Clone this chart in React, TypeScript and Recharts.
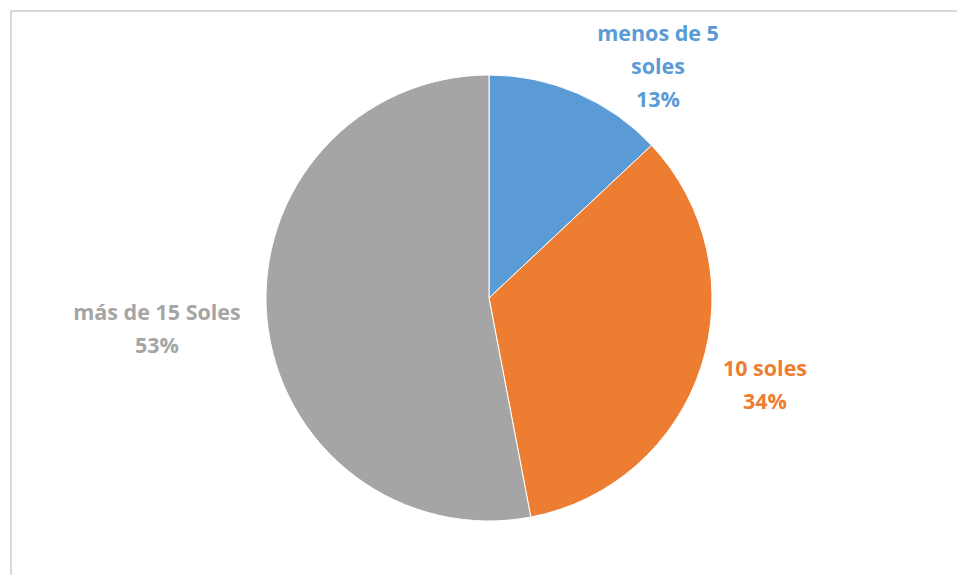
import React from 'react';
import { PieChart, Pie, Cell } from 'recharts';

const CATEGORIES = ['menos de 5 soles', '10 soles', 'más de 15 Soles'];
const VALUES = [13, 34, 53];
const LABEL_LINES = [['menos de 5', 'soles', '13%'], ['10 soles', '34%'], ['más de 15 Soles', '53%']];
const COLORS = ['#5B9BD5', '#ED7D31', '#A5A5A5'];

// label anchors relative to pie centre (first line centre)
const LABEL_OFFSETS = [
  { dx: 169, dy: -266 },
  { dx: 276, dy: 69 },
  { dx: -332, dy: 13 },
];

const data = CATEGORIES.map((name, i) => ({ name, value: VALUES[i] }));

const renderLabel = (props: any) => {
  const { cx, cy, index } = props;
  const off = LABEL_OFFSETS[index];
  return (
    <text
      x={cx + off.dx}
      y={cy + off.dy}
      textAnchor="middle"
      fill={COLORS[index]}
      fontFamily="'Open Sans', sans-serif"
      fontWeight={700}
      fontSize={21.5}
    >
      {LABEL_LINES[index].map((line, j) => (
        <tspan key={j} x={cx + off.dx} y={cy + off.dy + j * 33} dominantBaseline="central">
          {line}
        </tspan>
      ))}
    </text>
  );
};

export default function App() {
  return (
    <div
      style={{
        position: 'absolute',
        left: 10,
        top: 10,
        width: 947,
        height: 565,
        borderTop: '2px solid #D9D9D9',
        borderLeft: '2px solid #D9D9D9',
        boxSizing: 'border-box',
        overflow: 'hidden',
      }}
    >
      <PieChart width={945} height={563} margin={{ top: 0, right: 0, bottom: 0, left: 0 }}>
        <Pie
          data={data}
          dataKey="value"
          nameKey="name"
          cx={477}
          cy={286}
          outerRadius={223}
          startAngle={90}
          endAngle={-270}
          stroke="#FFFFFF"
          strokeWidth={1}
          label={renderLabel}
          labelLine={false}
          isAnimationActive={false}
        >
          {data.map((_, idx) => (
            <Cell key={idx} fill={COLORS[idx]} />
          ))}
        </Pie>
      </PieChart>
    </div>
  );
}
